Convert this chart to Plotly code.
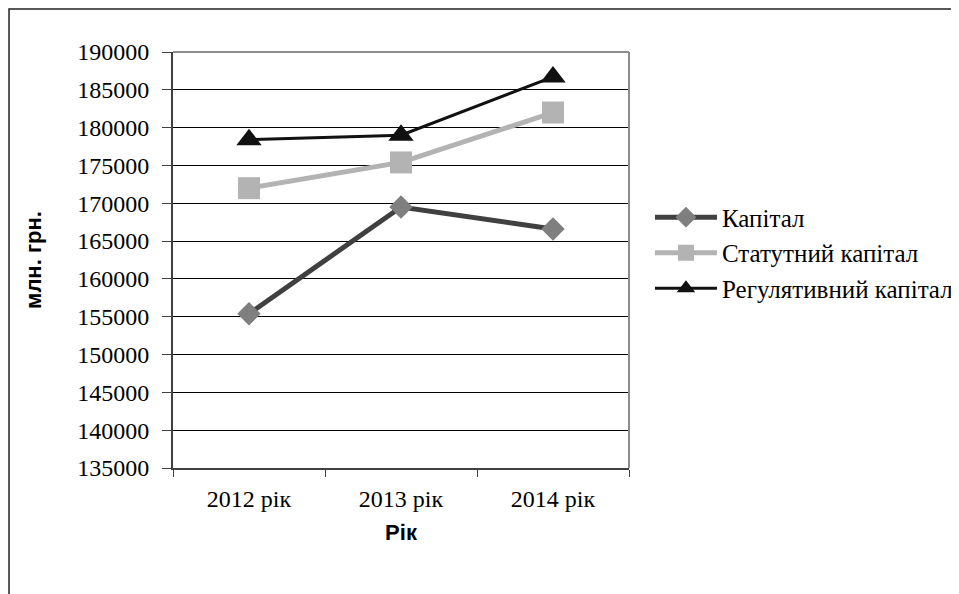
import plotly.graph_objects as go

# data (млн. грн.)
years = ['2012 рік', '2013 рік', '2014 рік']
kapital = [155400, 169500, 166600]
statutnyi = [172000, 175400, 182000]
regulyatyvnyi = [178400, 179000, 186700]

serif = 'Liberation Serif'
sans = 'Liberation Sans'

fig = go.Figure()

fig.add_trace(go.Scatter(
    x=years, y=kapital, name='Капітал', mode='lines+markers',
    line=dict(color='#404040', width=5),
    marker=dict(symbol='diamond', size=18, color='#7f7f7f'),
    legendgroup='a'
))
fig.add_trace(go.Scatter(
    x=years, y=statutnyi, name='Статутний капітал', mode='lines+markers',
    line=dict(color='#b3b3b3', width=5),
    marker=dict(symbol='square', size=22, color='#b3b3b3'),
    legendgroup='b'
))
fig.add_trace(go.Scatter(
    x=years, y=regulyatyvnyi, name='Регулятивний капітал', mode='lines+markers',
    line=dict(color='#111111', width=3),
    marker=dict(symbol='triangle-up', size=22, color='#111111'),
    legendgroup='c'
))

# the page body adds an 8px margin, so the figure is shifted; the right side just runs off the window
fig.update_layout(
    width=959, height=586,
    margin=dict(l=165, r=338, t=44, b=126, autoexpand=False),
    paper_bgcolor='white', plot_bgcolor='white',
    font=dict(family=serif, size=24, color='black'),
    showlegend=True,
    legend=dict(
        x=1.046, y=0.517, xanchor='left', yanchor='middle',
        font=dict(family=serif, size=25, color='black'),
        traceorder='grouped', tracegroupgap=0,
        bgcolor='rgba(0,0,0,0)', itemwidth=62
    ),
    xaxis=dict(
        type='category', tickson='boundaries', range=[-0.5, 2.5],
        ticks='outside', ticklen=7, tickcolor='#404040',
        showline=True, linecolor='#404040', linewidth=2,
        showgrid=False, ticklabelstandoff=8,
        tickfont=dict(family=serif, size=24),
        title=dict(text='Рік', font=dict(family=sans, size=22, color='black', weight='bold'), standoff=14),
    ),
    yaxis=dict(
        range=[135000, 190000], dtick=5000, tickformat='d',
        ticks='outside', ticklen=9, tickcolor='#404040',
        showline=True, linecolor='#404040', linewidth=2,
        showgrid=True, gridcolor='black', gridwidth=1,
        zeroline=False, ticklabelstandoff=8,
        tickfont=dict(family=serif, size=24),
        title=dict(text='млн. грн.', font=dict(family=sans, size=22, color='black', weight='bold'), standoff=30)
    ),
    shapes=[
        # plot area frame (top and right edges in gray)
        dict(type='line', xref='paper', yref='paper', x0=0, x1=1, y0=1, y1=1,
             line=dict(color='#8c8c8c', width=2)),
        dict(type='line', xref='paper', yref='paper', x0=1, x1=1, y0=0, y1=1,
             line=dict(color='#8c8c8c', width=2)),
        # outer chart border, cut off by the picture edges
        dict(type='rect', xref='paper', yref='paper', x0=-0.3596, x1=1.8, y0=-0.31, y1=1.1034,
             line=dict(color='#222222', width=1.5)),
    ],
)

fig.write_html('out.html')
